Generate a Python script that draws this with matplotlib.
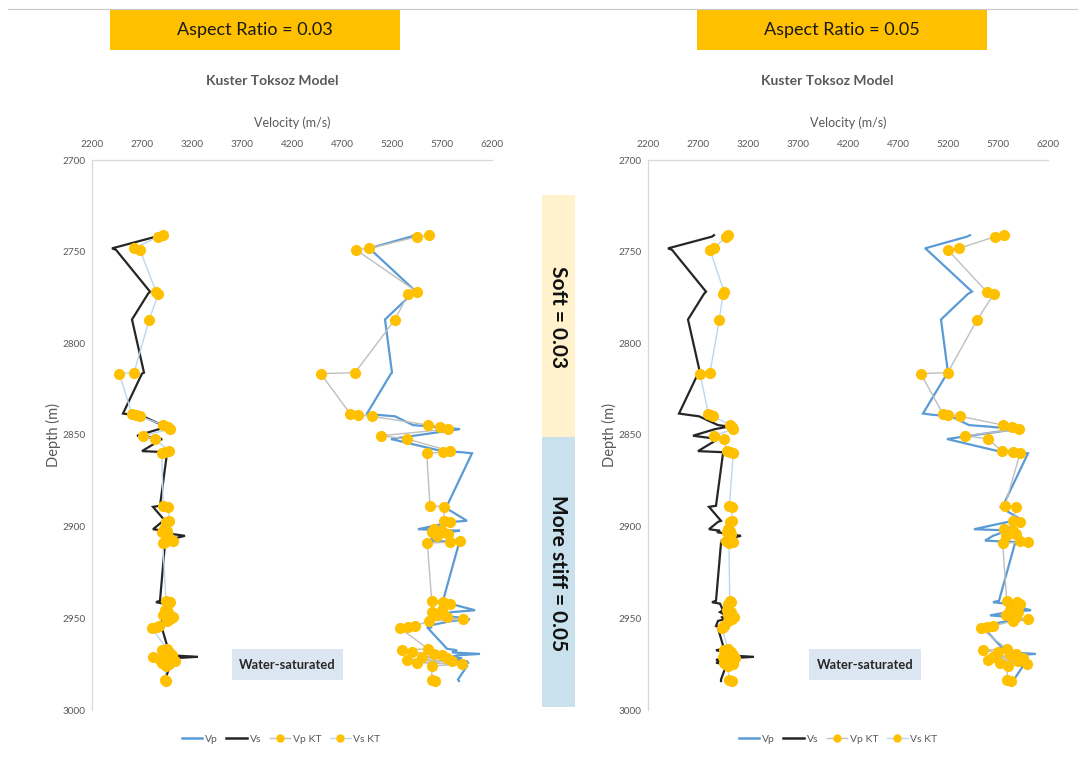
import matplotlib
matplotlib.use("Agg")
import matplotlib.pyplot as plt
from matplotlib.patches import Rectangle
from matplotlib.lines import Line2D

plt.rcParams['font.family'] = ['Lato', 'DejaVu Sans']

# ---- well-log samples (depth in m, velocities in m/s) ----
depth = [
    2741.0, 2741.8, 2748.2, 2749.0, 2771.8, 2773.0, 2787.0, 2816.0, 2816.5,
    2838.3, 2839.0, 2839.8, 2844.6, 2845.4, 2846.8, 2850.4, 2852.2, 2858.8, 2859.4, 2860.0,
    2888.6, 2889.2, 2896.8, 2897.4, 2901.4, 2902.2, 2903.0, 2904.0, 2905.0, 2907.6, 2908.4, 2909.0,
    2940.4, 2941.2, 2942.0, 2945.6, 2946.6, 2948.4, 2949.4, 2950.6, 2951.4, 2954.2, 2954.8, 2955.4,
    2966.6, 2967.4, 2968.6, 2969.4, 2970.2, 2971.0, 2971.8, 2972.6, 2973.4, 2974.2, 2975.0, 2976.0,
    2983.4, 2984.2,
]

vp = [
    5420, 5390, 4970, 4990, 5440, 5400, 5130, 5200, 5190,
    4950, 5050, 5230, 5410, 5600, 5880, 5420, 5190, 5700, 5900, 6000,
    5750, 5720, 5950, 5800, 5460, 5880, 5750, 5700, 5650, 5570, 5880, 5870,
    5710, 5650, 5780, 6030, 5800, 5620, 5850, 5980, 5800, 5550, 5600, 5560,
    5750, 5850, 5800, 6080, 5850, 5800, 5900, 5850, 5950, 5960, 5900, 5950,
    5860, 5870,
]

vs = [
    2860, 2840, 2400, 2440, 2780, 2760, 2600, 2720, 2700,
    2510, 2600, 2710, 2900, 3010, 2870, 2650, 2900, 2700, 2960, 2950,
    2880, 2810, 2930, 2900, 2810, 2920, 2890, 3000, 3130, 2930, 2960, 2930,
    2880, 2840, 2920, 2950, 2920, 2980, 2940, 2960, 2900, 2880, 2920, 2900,
    2960, 2880, 2990, 2950, 3000, 3260, 3000, 2880, 2950, 2880, 2960, 2980,
    2930, 2930,
]

# Kuster-Toksoz predictions, aspect ratio 0.03
vp_kt_03 = [
    5573, 5453, 4973, 4840, 5447, 5363, 5230, 4830, 4487,
    4780, 4863, 4997, 5563, 5680, 5760, 5090, 5353, 5780, 5713, 5547,
    5580, 5720, 5720, 5780, 5620, 5700, 5600, 5760, 5650, 5880, 5780, 5553,
    5597, 5713, 5780, 5700, 5600, 5650, 5750, 5913, 5570, 5430, 5357, 5280,
    5560, 5300, 5400, 5620, 5700, 5500, 5750, 5350, 5800, 5450, 5897, 5600,
    5597, 5630,
]
vs_kt_03 = [
    2907, 2863, 2620, 2680, 2840, 2863, 2773, 2620, 2473,
    2597, 2640, 2680, 2913, 2960, 2980, 2713, 2830, 2973, 2930, 2897,
    2913, 2963, 2973, 2940, 2920, 2950, 2900, 2940, 2960, 3013, 2930, 2907,
    2940, 2980, 2960, 2930, 2960, 2913, 3013, 2980, 2950, 2870, 2847, 2797,
    2950, 2900, 2970, 2920, 3000, 2813, 2960, 2880, 3030, 2900, 2970, 2940,
    2930, 2940,
]

# Kuster-Toksoz predictions, aspect ratio 0.05
vp_kt_05 = [
    5760, 5670, 5313, 5197, 5587, 5660, 5493, 5197, 4927,
    5147, 5203, 5320, 5753, 5837, 5913, 5370, 5603, 5737, 5853, 5920,
    5770, 5880, 5853, 5920, 5760, 5850, 5800, 5880, 5780, 5920, 6003, 5747,
    5787, 5887, 5920, 5820, 5900, 5780, 5880, 6003, 5850, 5653, 5587, 5527,
    5787, 5553, 5700, 5880, 5820, 5650, 5950, 5600, 5900, 5720, 5987, 5800,
    5787, 5827,
]
vs_kt_05 = [
    3003, 2980, 2860, 2820, 2960, 2950, 2913, 2820, 2720,
    2803, 2830, 2853, 3020, 3040, 3053, 2860, 2960, 2987, 3020, 3053,
    3013, 3040, 3040, 3020, 3000, 3020, 2990, 3030, 3010, 2983, 3050, 3010,
    3017, 3030, 3000, 2990, 3030, 3000, 3060, 3040, 3000, 2960, 2947, 2940,
    3000, 2960, 3030, 2980, 3050, 2950, 3070, 2970, 3040, 2960, 3050, 3000,
    3010, 3040,
]

x_ticks = [2200, 2700, 3200, 3700, 4200, 4700, 5200, 5700, 6200]
y_ticks = [2700, 2750, 2800, 2850, 2900, 2950, 3000]

headers = ["Aspect Ratio = 0.03", "Aspect Ratio = 0.05"]
series_names = ["Vp", "Vs", "Vp KT", "Vs KT"]

C_VP = '#5B9BD5'
C_VS = '#262626'
C_VPKT = '#BFBFBF'
C_VSKT = '#BDD7EE'
C_MARK = '#FFC000'
C_TEXT = '#595959'
C_AXIS = '#D9D9D9'

W, H = 1078, 764
fig = plt.figure(figsize=(W / 100, H / 100), dpi=100)


def fx(px):
    return px / W


def fy(py):
    return 1 - py / H


def box(x0, y0, x1, y1, color):
    fig.patches.append(Rectangle((fx(x0), fy(y1)), (x1 - x0) / W, (y1 - y0) / H,
                                 transform=fig.transFigure, facecolor=color,
                                 edgecolor='none', zorder=0))


# thin rule across the top
fig.add_artist(Line2D([fx(8), fx(1078)], [fy(9), fy(9)], transform=fig.transFigure,
                      color='#C8C8C8', lw=0.8))

panels = [
    dict(left=92, header=(110, 400), title_x=272, legend_x=281,
         ws=(232, 343), depth_x=53, vpkt=vp_kt_03, vskt=vs_kt_03),
    dict(left=648, header=(697, 987), title_x=827, legend_x=838,
         ws=(809, 921), depth_x=609, vpkt=vp_kt_05, vskt=vs_kt_05),
]

for p, head in zip(panels, headers):
    ax = fig.add_axes([fx(p['left']), fy(710), 400 / W, 550 / H])
    ax.plot(vp, depth, color=C_VP, lw=1.6, zorder=2, solid_joinstyle='miter')
    ax.plot(vs, depth, color=C_VS, lw=1.6, zorder=3, solid_joinstyle='miter')
    ax.plot(p['vpkt'], depth, color=C_VPKT, lw=1.0, marker='o', ms=7,
            mfc=C_MARK, mec=C_MARK, zorder=4)
    ax.plot(p['vskt'], depth, color=C_VSKT, lw=1.0, marker='o', ms=7,
            mfc=C_MARK, mec=C_MARK, zorder=5)

    ax.set_xlim(x_ticks[0], x_ticks[-1])
    ax.set_ylim(y_ticks[-1], y_ticks[0])
    ax.set_xticks(x_ticks)
    ax.set_yticks(y_ticks)
    ax.xaxis.tick_top()
    ax.tick_params(axis='both', length=0, labelsize=7.2, labelcolor=C_TEXT)
    ax.tick_params(axis='x', pad=8)
    ax.tick_params(axis='y', pad=4.5)
    for side in ('bottom', 'right'):
        ax.spines[side].set_visible(False)
    for side in ('top', 'left'):
        ax.spines[side].set_color(C_AXIS)
        ax.spines[side].set_linewidth(0.9)
    ax.patch.set_alpha(0)

    # header banner
    h0, h1 = p['header']
    box(h0, 10, h1, 50, C_MARK)
    fig.text(fx((h0 + h1) / 2), fy(30), head, ha='center', va='center',
             fontsize=13, color='#1a1a1a')

    fig.text(fx(p['title_x']), fy(81), "Kuster Toksoz Model", ha='center', va='center',
             fontsize=10, fontweight='bold', color=C_TEXT)
    fig.text(fx(p['left'] + 200), fy(123), "Velocity (m/s)", ha='center', va='center',
             fontsize=9, color=C_TEXT)
    fig.text(fx(p['depth_x']), fy(435), "Depth (m)", ha='center', va='center',
             rotation=90, fontsize=10.5, color=C_TEXT)

    # fluid annotation
    w0, w1 = p['ws']
    box(w0, 649, w1, 680, '#DCE6F2')
    fig.text(fx((w0 + w1) / 2), fy(665), "Water-saturated", ha='center', va='center',
             fontsize=9.3, fontweight='bold', color='#262626')

    handles = [
        Line2D([], [], color=C_VP, lw=1.8),
        Line2D([], [], color=C_VS, lw=1.8),
        Line2D([], [], color=C_VPKT, lw=1.0, marker='o', ms=5, mfc=C_MARK, mec=C_MARK),
        Line2D([], [], color=C_VSKT, lw=1.0, marker='o', ms=5, mfc=C_MARK, mec=C_MARK),
    ]
    fig.legend(handles, series_names, loc='center', ncol=4, frameon=False,
               bbox_to_anchor=(fx(p['legend_x']), fy(739)), fontsize=7.5,
               labelcolor=C_TEXT, handlelength=2.0, handletextpad=0.25,
               columnspacing=0.8)

# stiffness bands between the two panels
box(542, 195, 575, 437, '#FFF2CC')
box(542, 437, 575, 707, '#C9E1EC')
fig.text(fx(558.5), fy(317), "Soft = 0.03", ha='center', va='center', rotation=-90,
         fontsize=15, fontweight='bold', color='#111111')
fig.text(fx(558.5), fy(573), "More stiff = 0.05", ha='center', va='center', rotation=-90,
         fontsize=15, fontweight='bold', color='#111111')

fig.savefig("out.png", dpi=100)
